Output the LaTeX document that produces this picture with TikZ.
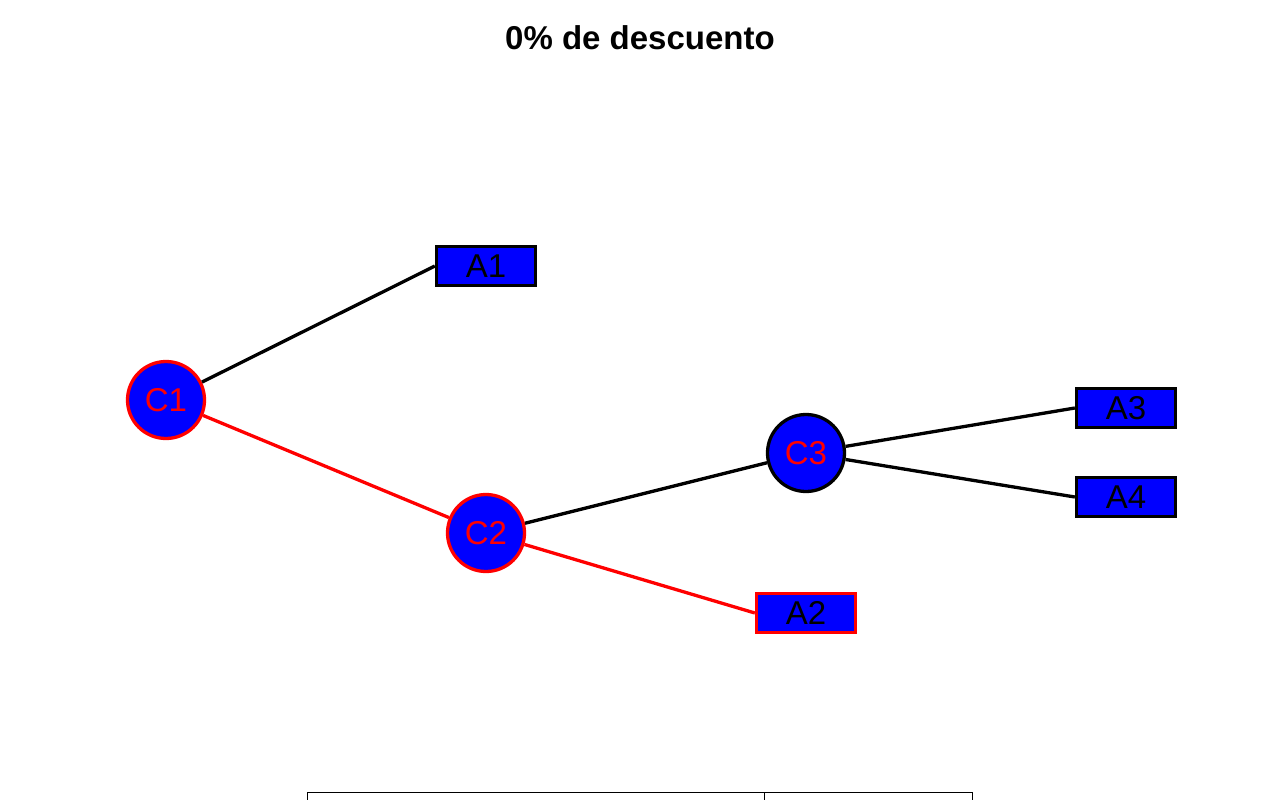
\documentclass[tikz,border=0pt]{standalone}
\usepackage{fontspec}
\setmainfont{Liberation Sans}
\usepackage{tikz}
\usetikzlibrary{positioning}
\definecolor{fillblue}{RGB}{0,0,255}
\definecolor{pathred}{RGB}{255,0,0}
\tikzset{
	decision tree/.style={
		x=1pt, y=-1pt,
		every path/.style={line width=3.3pt},
		},
	chance/.style={circle, draw, fill=fillblue, minimum size=77pt, inner sep=0pt,
		text=pathred, font=\fontsize{33}{36}\selectfont},
	leaf/.style={rectangle, draw, fill=fillblue, minimum width=99pt, minimum height=39pt,
		inner sep=0pt, text=black, font=\fontsize{33}{36}\selectfont},
	chosen/.style={draw=pathred},
	branch/.style={draw=black},
	title/.style={font=\bfseries\fontsize{33}{36}\selectfont, anchor=base}
}

\begin{document}
\begin{tikzpicture}[decision tree]
    \useasboundingbox (0,0) rectangle (1280,800);
    \node[title] (T) at (640,50) {0\% de descuento};
    \node[chance, chosen] (C1) at (166,400) {C1};
    \node[chance, chosen] (C2) at (486,533) {C2};
    \node[chance] (C3) at (806,453) {C3};
    \node[leaf] (A1) at (486,266) {A1};
    \node[leaf, chosen] (A2) at (806,613) {A2};
    \node[leaf] (A3) at (1126,408) {A3};
    \node[leaf] (A4) at (1126,497) {A4};
    \draw[branch] (C1) -- (A1.west);
    \draw[chosen] (C1) -- (C2);
    \draw[branch] (C2) -- (C3);
    \draw[chosen] (C2) -- (A2.west);
    \draw[branch] (C3) -- (A3.west);
    \draw[branch] (C3) -- (A4.west);
    % table below the tree
    \draw[line width=1pt] (307,801) -- (307,792) -- (972,792) -- (972,801)
      (764,792) -- (764,801);
  \end{tikzpicture}
\end{document}
